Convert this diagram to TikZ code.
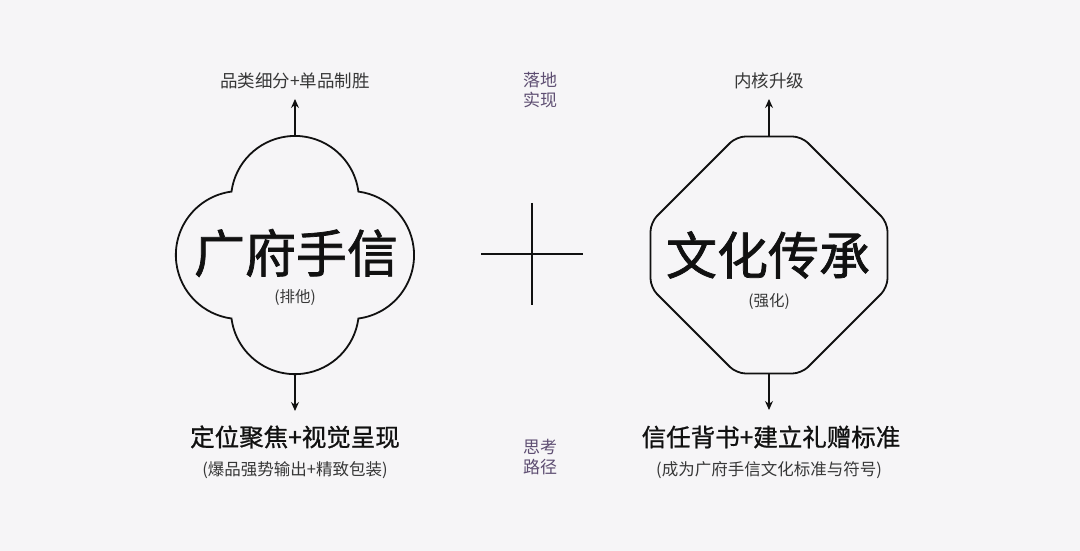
\documentclass[tikz,border=0pt]{standalone}
\usepackage{fontspec}
\newfontfamily\cjk{Noto Sans CJK SC}
\newfontfamily\cjkt{Noto Sans CJK SC}[FakeBold=1.4]
\newfontfamily\cjkh{Noto Sans CJK SC}[FakeBold=0.9]
\usetikzlibrary{arrows.meta,calc}
\definecolor{bg}{RGB}{246,245,247}
\definecolor{ink}{RGB}{17,17,17}
\definecolor{grey}{RGB}{55,55,55}
\definecolor{purp}{RGB}{94,78,114}
\tikzset{
  shapeline/.style={draw=ink, line width=1.8pt},
  arr/.style={draw=ink, line width=1.1pt, -{Stealth[length=9pt,width=8pt]}},
  toplbl/.style={text=grey, font=\cjk\fontsize{17.5}{20}\selectfont, inner sep=0pt},
  midlbl/.style={text=purp, font=\cjk\fontsize{17}{20.5}\selectfont, align=center, inner sep=0pt},
  title/.style={text=ink, font=\cjkt\fontsize{51}{56}\selectfont, inner sep=0pt},
  paren/.style={text=grey, font=\cjk\fontsize{15.5}{18}\selectfont, inner sep=0pt},
  heading/.style={text=ink, font=\cjkh\fontsize{24.5}{28}\selectfont, inner sep=0pt},
  sub/.style={text=grey, font=\cjk\fontsize{16.5}{19}\selectfont, inner sep=0pt},
}
\begin{document}
\begin{tikzpicture}[x=1pt,y=1pt]
\fill[bg] (0,0) rectangle (1080,551);
\useasboundingbox (0,0) rectangle (1080,551);

% ---------- left: quatrefoil cloud ----------
\coordinate (cc) at (295,296);
\draw[shapeline] ($(cc)+(63.4,63.4)$)
  arc[start angle=7.5,end angle=172.5,radius=64]
  arc[start angle=97.5,end angle=262.5,radius=64]
  arc[start angle=187.5,end angle=352.5,radius=64]
  arc[start angle=277.5,end angle=442.5,radius=64] -- cycle;
\coordinate (cloudtop) at (295,415);
\coordinate (cloudbot) at (295,177);
\coordinate (cloudtip1) at (295,452);
\coordinate (cloudtip2) at (295,140);
\node[title] (t1) at (296,298) {广府手信};
\node[paren] (p1) at (295,253) {(排他)};
\node[toplbl] (u1) at (295,470) {品类细分+单品制胜};
\node[heading] (h1) at (295,114) {定位聚焦+视觉呈现};
\node[sub] (s1) at (295,81) {(爆品强势输出+精致包装)};
\draw[arr] (cloudtop) -- (cloudtip1);
\draw[arr] (cloudbot) -- (cloudtip2);

% ---------- middle: plus ----------
\coordinate (pl) at (481,297);
\coordinate (pr) at (583,297);
\coordinate (pt) at (532,348);
\coordinate (pb) at (532,246);
\draw[draw=ink, line width=1.9pt] (pl) -- (pr);
\draw[draw=ink, line width=1.9pt] (pt) -- (pb);
\node[midlbl] (m1) at (540,461) {落地\\实现};
\node[midlbl] (m2) at (540,94) {思考\\路径};

% ---------- right: rounded octagon ----------
\coordinate (oc) at (769,296);
\draw[shapeline, rounded corners=9pt]
  ($(oc)+(0,118.5)$) -- ($(oc)+(32.5,118.5)$) -- ($(oc)+(118.5,32.5)$)
  -- ($(oc)+(118.5,-32.5)$) -- ($(oc)+(32.5,-118.5)$) -- ($(oc)+(-32.5,-118.5)$)
  -- ($(oc)+(-118.5,-32.5)$) -- ($(oc)+(-118.5,32.5)$) -- ($(oc)+(-32.5,118.5)$)
  -- cycle;
\coordinate (octtop) at (769,414.5);
\coordinate (octbot) at (769,177.5);
\coordinate (octtip1) at (769,452);
\coordinate (octtip2) at (769,141);
\node[title] (t2) at (768,296) {文化传承};
\node[paren] (p2) at (769,249) {(强化)};
\node[toplbl] (u2) at (769,470) {内核升级};
\node[heading] (h2) at (771,114) {信任背书+建立礼赠标准};
\node[sub] (s2) at (769,81) {(成为广府手信文化标准与符号)};
\draw[arr] (octtop) -- (octtip1);
\draw[arr] (octbot) -- (octtip2);
\end{tikzpicture}
\end{document}
